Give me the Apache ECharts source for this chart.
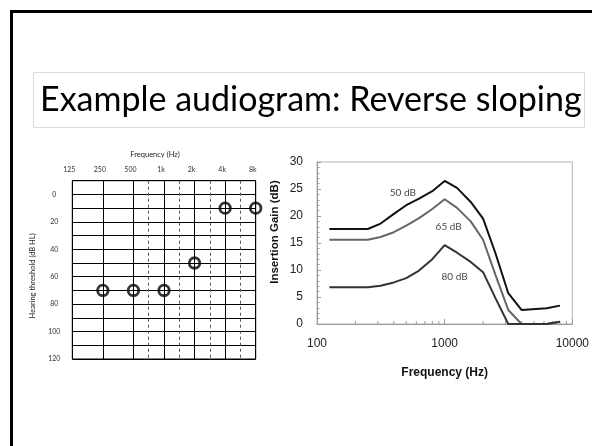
<!DOCTYPE html>
<html>
<head>
<meta charset="utf-8">
<script src="https://cdn.jsdelivr.net/npm/echarts@6/dist/echarts.min.js"></script>
<style>
html,body{margin:0;padding:0;background:#fff;}
#c{width:592px;height:446px;}
</style>
</head>
<body>
<div id="c"></div>
<script>
// ---- Data ----
const slideTitle = 'Example audiogram: Reverse sloping';

// Audiogram (left)
const audioFreqLabels = ['125', '250', '500', '1k', '2k', '4k', '8k'];
const audioFreqs = [250, 500, 1000, 2000, 4000, 8000];
const audioThresholds = [70, 70, 70, 50, 10, 10];

// Insertion gain (right)
const gainFreqs = [125, 250, 315, 400, 500, 630, 800, 1000, 1250, 1600, 2000, 2500, 3150, 4000, 6300, 8000];
const gain50 = [17.6, 17.6, 18.6, 20.4, 22.0, 23.2, 24.6, 26.5, 25.2, 22.6, 19.5, 13.1, 5.7, 2.6, 2.9, 3.4];
const gain65 = [15.6, 15.6, 16.1, 17.0, 18.2, 19.6, 21.3, 23.1, 21.5, 19.0, 15.6, 9.1, 2.6, 0, 0, 0.4];
const gain80 = [6.8, 6.8, 7.1, 7.7, 8.5, 9.9, 12.0, 14.6, 13.2, 11.5, 9.6, 4.8, 0, 0, 0, 0.4];
const curveNames = ['50 dB', '65 dB', '80 dB'];
const curveLabelFreqs = [470, 1075, 1197];
const curveLabelGains = [24.3, 18.0, 8.7];
const minorFreqs = [200, 300, 400, 500, 600, 700, 800, 900, 2000, 3000, 4000, 5000, 6000, 7000, 8000, 9000];

// ---- Helpers ----
const octaveIndex = f => Math.log2(f / 125);
const audioPoints = audioFreqs.map((f, i) => [octaveIndex(f), audioThresholds[i]]);
const interOctave = [[500, 1000], [1000, 2000], [2000, 4000], [4000, 8000]]
  .map(p => (octaveIndex(p[0]) + octaveIndex(p[1])) / 2);

const calibri = 'Lato, "Open Sans", sans-serif';
const arial = '"Liberation Sans", Arial, sans-serif';

const chart = echarts.init(document.getElementById('c'), null, {renderer: 'canvas'});

const lineSeries = (name, vals, color) => ({
  type: 'line', name: name, xAxisIndex: 1, yAxisIndex: 1,
  data: gainFreqs.map((f, i) => [f, vals[i]]),
  showSymbol: false, symbol: 'none',
  lineStyle: {color: color, width: 2},
  z: 5, animation: false
});

const option = {
  animation: false,
  backgroundColor: '#fff',
  title: {
    text: slideTitle,
    left: 33, top: 72,
    padding: [11, 3, 11, 7],
    borderColor: '#d9d9d9', borderWidth: 1,
    textStyle: {fontFamily: calibri, fontSize: 34, fontWeight: 'normal', color: '#000'}
  },
  graphic: [
    {type: 'rect', shape: {x: 11.5, y: 11.5, width: 700, height: 600},
     style: {fill: 'none', stroke: '#000', lineWidth: 3}, silent: true, z: 100}
  ],
  grid: [
    {left: 72.3, top: 180.7, width: 183.4, height: 178.3, show: true, borderColor: '#000', borderWidth: 1},
    {left: 317, top: 162, right: 19, bottom: 122, show: true, borderColor: '#b5b5b5', borderWidth: 1}
  ],
  xAxis: [
    {
      gridIndex: 0, type: 'value', position: 'top', min: 0, max: 6, interval: 1,
      name: 'Frequency (Hz)', nameLocation: 'middle', nameGap: 22,
      nameTextStyle: {fontFamily: calibri, fontSize: 7.5, color: '#222', padding: [0, 18, 0, 0]},
      axisLine: {show: false}, axisTick: {show: false},
      axisLabel: {fontFamily: calibri, fontSize: 7, color: '#333', margin: 7, padding: [0, 6, 0, 0],
        formatter: v => audioFreqLabels[Math.round(v)] || ''},
      splitLine: {show: true, lineStyle: {color: '#000', width: 1}}
    },
    {
      gridIndex: 1, type: 'log', logBase: 10, min: 100, max: 10000,
      name: 'Frequency (Hz)', nameLocation: 'middle', nameGap: 43,
      nameTextStyle: {fontFamily: arial, fontSize: 12, fontWeight: 'bold', color: '#111'},
      axisLine: {show: true, lineStyle: {color: '#9a9a9a', width: 1}},
      axisTick: {show: true, inside: true, length: 5, lineStyle: {color: '#9a9a9a'}},
      axisLabel: {fontFamily: arial, fontSize: 12, color: '#222', margin: 14,
        formatter: v => String(Math.round(v))},
      splitLine: {show: false}
    }
  ],
  yAxis: [
    {
      gridIndex: 0, type: 'value', inverse: true, min: -10, max: 120, interval: 10,
      name: 'Hearing threshold (dB HL)', nameLocation: 'middle', nameGap: 36,
      nameTextStyle: {fontFamily: calibri, fontSize: 7.5, color: '#222', padding: [0, 12, 0, 0]},
      axisLine: {show: false}, axisTick: {show: false},
      axisLabel: {fontFamily: calibri, fontSize: 7, color: '#333', margin: 18, align: 'center',
        padding: [0, 0, 4, 0],
        formatter: v => (v >= 0 && v % 20 === 0) ? String(v) : ''},
      splitLine: {show: true, lineStyle: {color: '#000', width: 1}}
    },
    {
      gridIndex: 1, type: 'value', min: 0, max: 30, interval: 5,
      name: 'Insertion Gain (dB)', nameLocation: 'middle', nameGap: 36,
      nameTextStyle: {fontFamily: arial, fontSize: 11.5, fontWeight: 'bold', color: '#111',
        padding: [0, 0, 0, 22]},
      axisLine: {show: true, lineStyle: {color: '#9a9a9a', width: 1}},
      axisTick: {show: true, inside: true, length: 4, lineStyle: {color: '#9a9a9a'}},
      minorTick: {show: true, splitNumber: 5, length: 2.5, lineStyle: {color: '#9a9a9a'}},
      axisLabel: {fontFamily: arial, fontSize: 12, color: '#222', margin: 14},
      splitLine: {show: false}
    }
  ],
  series: [
    {
      type: 'scatter', xAxisIndex: 0, yAxisIndex: 0,
      data: audioPoints,
      symbol: 'circle', symbolSize: 10.5,
      itemStyle: {color: 'rgba(0,0,0,0)', borderColor: '#000', borderWidth: 2.8},
      z: 5,
      markLine: {
        silent: true, symbol: 'none', label: {show: false},
        lineStyle: {color: '#555', type: [3, 3], width: 1},
        data: interOctave.map(x => ({xAxis: x}))
      }
    },
    lineSeries(curveNames[0], gain50, '#111'),
    lineSeries(curveNames[1], gain65, '#666'),
    lineSeries(curveNames[2], gain80, '#333'),
    {
      type: 'custom', xAxisIndex: 1, yAxisIndex: 1,
      data: minorFreqs.map(f => [f, 0]),
      renderItem: (params, api) => {
        const p = api.coord([api.value(0), 0]);
        return {type: 'line', shape: {x1: p[0], y1: p[1], x2: p[0], y2: p[1] - 3},
          style: {stroke: '#9a9a9a', lineWidth: 1}};
      },
      silent: true, z: 3
    },
    {
      type: 'scatter', xAxisIndex: 1, yAxisIndex: 1,
      data: curveNames.map((n, i) => ({value: [curveLabelFreqs[i], curveLabelGains[i]], name: n})),
      symbolSize: 0,
      label: {show: true, position: 'inside', formatter: p => p.name,
        fontFamily: calibri, fontSize: 10, color: '#111'},
      silent: true, z: 6
    }
  ]
};
chart.setOption(option);
</script>
</body>
</html>
